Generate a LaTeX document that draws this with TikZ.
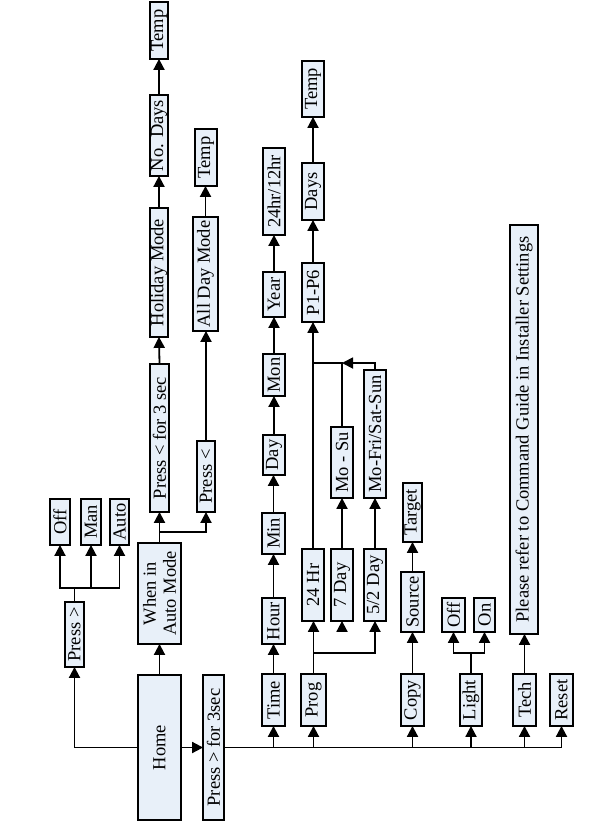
\documentclass[tikz,border=0pt]{standalone}
\usepackage{fontspec}
\setmainfont{Liberation Serif}
\usetikzlibrary{arrows.meta,calc}
\definecolor{boxfill}{RGB}{232,240,249}
\newcommand\flowbox[6]{\node[fbox, minimum width={#5-#4-2.2}, minimum height={#3-#2-2.2}] (#1) at ({(#2+#3)/2},{(#4+#5)/2}) {#6};}
\begin{document}
\begin{tikzpicture}[x=1pt,y=-1pt,
  fbox/.style={draw=black, line width=2.2pt, fill=boxfill, rotate=90, inner sep=0pt, outer sep=0pt,
    font=\fontsize{18.5}{20}\selectfont, align=center},
  conn/.style={line width=1.8pt},
  arr/.style={conn, -{Triangle[length=11pt,width=11pt]}}]
\useasboundingbox (0,0) rectangle (592,828);
% left column
\flowbox{off1}{49}{71}{498}{546}{Off}
\flowbox{man}{80}{102}{498}{546}{Man}
\flowbox{auto}{109}{130}{498}{546}{Auto}
\flowbox{pressgt}{64}{85}{601}{668}{Press >}
\flowbox{wiam}{137}{182}{542}{645}{When in\\Auto Mode}
\flowbox{home}{137}{182}{674}{821}{Home}
\flowbox{p3s}{202}{225}{674}{821}{Press > for 3sec}
% auto mode branch
\flowbox{temp1}{149}{169}{1}{60}{Temp}
\flowbox{nodays}{149}{169}{94}{177}{No. Days}
\flowbox{holiday}{149}{169}{207}{338}{Holiday Mode}
\flowbox{plt3}{149}{170}{363}{513}{Press < for 3 sec}
\flowbox{plt}{196}{216}{440}{513}{Press <}
\flowbox{allday}{192}{219}{216}{332}{All Day Mode}
\flowbox{temp2}{194}{218}{128}{187}{Temp}
% time
\flowbox{time}{261}{286}{673}{727}{Time}
\flowbox{hour}{261}{286}{597}{645}{Hour}
\flowbox{min}{261}{286}{512}{555}{Min}
\flowbox{day}{262}{286}{434}{476}{Day}
\flowbox{mon}{262}{286}{353}{397}{Mon}
\flowbox{year}{262}{286}{271}{318}{Year}
\flowbox{hh}{262}{286}{147}{236}{24hr/12hr}
% prog
\flowbox{prog}{300}{327}{673}{727}{Prog}
\flowbox{h24}{301}{325}{548}{622}{24 Hr}
\flowbox{d7}{330}{354}{548}{622}{7 Day}
\flowbox{d52}{363}{387}{548}{622}{5/2 Day}
\flowbox{mosu}{330}{354}{426}{499}{Mo - Su}
\flowbox{mofri}{363}{387}{369}{499}{Mo-Fri/Sat-Sun}
\flowbox{p16}{301}{325}{262}{323}{P1-P6}
\flowbox{days}{301}{325}{162}{221}{Days}
\flowbox{temp3}{301}{325}{60}{118}{Temp}
% copy
\flowbox{copy}{400}{425}{673}{727}{Copy}
\flowbox{source}{400}{425}{571}{633}{Source}
\flowbox{target}{402}{423}{482}{543}{Target}
% light
\flowbox{light}{459}{483}{673}{727}{Light}
\flowbox{off2}{441}{466}{597}{633}{Off}
\flowbox{on}{473}{496}{597}{633}{On}
% tech / reset
\flowbox{please}{509}{539}{224}{635}{Please refer to Command Guide in Installer Settings}
\flowbox{tech}{512}{537}{673}{727}{Tech}
\flowbox{reset}{549}{574}{673}{727}{Reset}

% connectors: home
\draw[arr] (home.east) -- (wiam.west);
\draw[arr] (home.north) -| (pressgt.west);
\draw[arr] (home.south) -- (p3s.north);
% press > fork
\path (pressgt.east) ++(0,-14) coordinate (fA);
\draw[conn] (pressgt.east) -- (fA);
\draw[arr] (fA) -| (off1.west);
\draw[arr] (fA) -| (man.west);
\draw[arr] (fA) -| (auto.west);
% auto mode fork
\path (wiam.east) ++(0,-11) coordinate (fW);
\draw[conn] (wiam.east) -- (fW);
\draw[arr] (fW) -- (plt3.west);
\draw[arr] (fW) -| (plt.west);
\draw[arr] (plt3.east) -- (holiday.west);
\draw[arr] (holiday.east) -- (nodays.west);
\draw[arr] (nodays.east) -- (temp1.west);
\draw[arr] (plt.east) -- (plt.east |- allday.west);
\draw[arr] (allday.east) -- (allday.east |- temp2.west);
% bus
\draw[arr] (p3s.south) -| (reset.west);
\draw[arr] (time.west |- p3s.south) -- (time.west);
\draw[arr] (prog.west |- p3s.south) -- (prog.west);
\draw[arr] (copy.west |- p3s.south) -- (copy.west);
\draw[arr] (light.west |- p3s.south) -- (light.west);
\draw[arr] (tech.west |- p3s.south) -- (tech.west);
% time chain
\draw[arr] (time.east) -- (hour.west);
\draw[arr] (hour.east) -- (min.west);
\draw[arr] (min.east) -- (min.east |- day.west);
\draw[arr] (day.east) -- (mon.west);
\draw[arr] (mon.east) -- (year.west);
\draw[arr] (year.east) -- (hh.west);
% prog
\path (prog.east) ++(0,-21) coordinate (fP);
\draw[arr] (prog.east) -- (prog.east |- h24.west);
\draw[arr] (fP) -| (d52.west);
\draw[arr] ($(d7.west)+(0,11)$) -- (d7.west);
\draw[arr] (d7.east) -- (mosu.west);
\draw[arr] (d52.east) -- (mofri.west);
\draw[arr] (h24.east) -- (p16.west);
\coordinate (jy) at (0,363);
\draw[conn] (mosu.east) |- (h24.east |- jy);
\draw[arr] (mofri.east) |- (mosu.east |- jy);
\draw[arr] (p16.east) -- (days.west);
\draw[arr] (days.east) -- (temp3.west);
% copy
\draw[arr] (copy.east) -- (source.west);
\draw[arr] (source.east) -- (source.east |- target.west);
% light
\path (light.east) ++(0,-21) coordinate (fL);
\draw[conn] (light.east) -- (fL);
\draw[arr] (fL) -| (off2.west);
\draw[arr] (fL) -| (on.west);
% tech
\draw[arr] (tech.east) -- (tech.east |- please.west);
\end{tikzpicture}
\end{document}
